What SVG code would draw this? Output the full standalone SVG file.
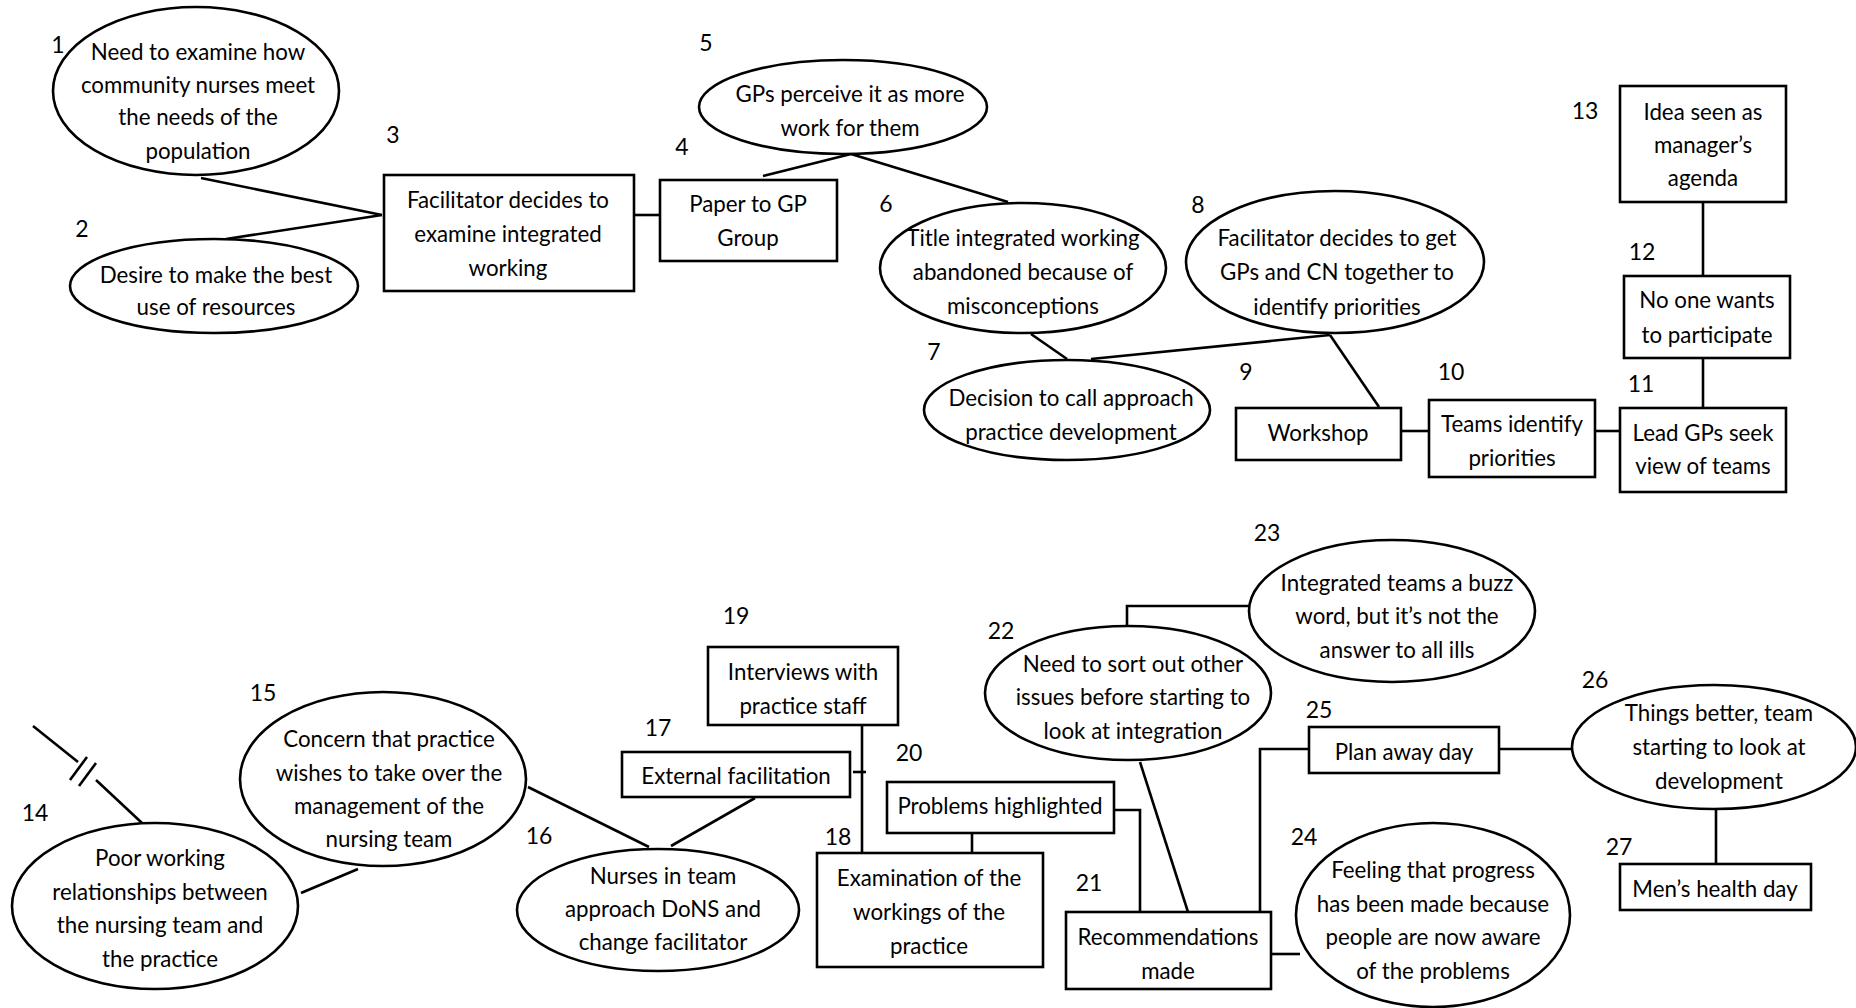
<svg xmlns="http://www.w3.org/2000/svg" width="1856" height="1008" viewBox="0 0 1856 1008">
<style>
.shape{fill:#fff;stroke:#000;stroke-width:2.6}
.t{font-family:Lato,"Liberation Sans",sans-serif;font-size:22.3px;fill:#000;text-anchor:middle}
.n{font-family:Lato,"Liberation Sans",sans-serif;font-size:23px;fill:#000;text-anchor:middle}
.c{fill:none;stroke:#000;stroke-width:2.6}
</style>
<rect width="1856" height="1008" fill="#fff"/>
<g id="connectors">
<path class="c" d="M201 178 L382 215"/>
<path class="c" d="M226 239 L382 215"/>
<path class="c" d="M634 215 L660 215"/>
<path class="c" d="M763 176 L851 154"/>
<path class="c" d="M851 154 L1008 202"/>
<path class="c" d="M1031 334 L1067 359"/>
<path class="c" d="M1091 359 L1330 335"/>
<path class="c" d="M1330 335 L1379 407"/>
<path class="c" d="M1401 431 L1429 431"/>
<path class="c" d="M1595 431 L1620 431"/>
<path class="c" d="M1703 408 L1703 358"/>
<path class="c" d="M1703 276 L1703 202"/>
<path class="c" d="M33 726 L78 762"/>
<path class="c" d="M70 780 L87 757"/>
<path class="c" d="M79 786 L96 763"/>
<path class="c" d="M96 780 L142 823"/>
<path class="c" d="M301 893 L358 869"/>
<path class="c" d="M528 787 L649 847"/>
<path class="c" d="M755 798 L671 846"/>
<path class="c" d="M862 725 L862 853"/>
<path class="c" d="M853 772 L866 772"/>
<path class="c" d="M972 833 L972 853"/>
<path class="c" d="M1114 810 L1140 810 L1140 912"/>
<path class="c" d="M1140 762 L1188 912"/>
<path class="c" d="M1127 627 L1127 606 L1249 606"/>
<path class="c" d="M1260 912 L1260 749 L1309 749"/>
<path class="c" d="M1499 749 L1573 749"/>
<path class="c" d="M1716 808 L1716 864"/>
<path class="c" d="M1271 954 L1300 954"/>
</g>
<g id="node1"><ellipse class="shape" cx="196" cy="91" rx="143" ry="84"/><text class="t" x="198" y="60">Need to examine how</text><text class="t" x="198" y="93">community nurses meet</text><text class="t" x="198" y="125">the needs of the</text><text class="t" x="198" y="159">population</text><text class="n" x="58" y="53">1</text></g>
<g id="node2"><ellipse class="shape" cx="214" cy="286" rx="144" ry="47"/><text class="t" x="216" y="283">Desire to make the best</text><text class="t" x="216" y="315">use of resources</text><text class="n" x="82" y="237">2</text></g>
<g id="node3"><rect class="shape" x="384" y="175" width="250" height="116"/><text class="t" x="508" y="208">Facilitator decides to</text><text class="t" x="508" y="242">examine integrated</text><text class="t" x="508" y="276">working</text><text class="n" x="393" y="143">3</text></g>
<g id="node4"><rect class="shape" x="660" y="180" width="177" height="81"/><text class="t" x="748" y="212">Paper to GP</text><text class="t" x="748" y="246">Group</text><text class="n" x="682" y="155">4</text></g>
<g id="node5"><ellipse class="shape" cx="843" cy="107" rx="144" ry="47"/><text class="t" x="850" y="102">GPs perceive it as more</text><text class="t" x="850" y="136">work for them</text><text class="n" x="706" y="51">5</text></g>
<g id="node6"><ellipse class="shape" cx="1023" cy="268" rx="143" ry="65"/><text class="t" x="1023" y="246">Title integrated working</text><text class="t" x="1023" y="280">abandoned because of</text><text class="t" x="1023" y="314">misconceptions</text><text class="n" x="886" y="212">6</text></g>
<g id="node7"><ellipse class="shape" cx="1067" cy="410" rx="143" ry="50"/><text class="t" x="1071" y="406">Decision to call approach</text><text class="t" x="1071" y="440">practice development</text><text class="n" x="934" y="360">7</text></g>
<g id="node8"><ellipse class="shape" cx="1335" cy="262" rx="149" ry="71"/><text class="t" x="1337" y="246">Facilitator decides to get</text><text class="t" x="1337" y="280">GPs and CN together to</text><text class="t" x="1337" y="315">identify priorities</text><text class="n" x="1198" y="213">8</text></g>
<g id="node9"><rect class="shape" x="1236" y="408" width="165" height="52"/><text class="t" x="1318" y="441">Workshop</text><text class="n" x="1246" y="380">9</text></g>
<g id="node10"><rect class="shape" x="1429" y="400" width="166" height="77"/><text class="t" x="1512" y="432">Teams identify</text><text class="t" x="1512" y="466">priorities</text><text class="n" x="1451" y="380">10</text></g>
<g id="node11"><rect class="shape" x="1620" y="408" width="166" height="84"/><text class="t" x="1703" y="441">Lead GPs seek</text><text class="t" x="1703" y="474">view of teams</text><text class="n" x="1641" y="392">11</text></g>
<g id="node12"><rect class="shape" x="1624" y="276" width="166" height="82"/><text class="t" x="1707" y="308">No one wants</text><text class="t" x="1707" y="343">to participate</text><text class="n" x="1642" y="260">12</text></g>
<g id="node13"><rect class="shape" x="1620" y="86" width="166" height="116"/><text class="t" x="1703" y="120">Idea seen as</text><text class="t" x="1703" y="153">manager’s</text><text class="t" x="1703" y="186">agenda</text><text class="n" x="1585" y="119">13</text></g>
<g id="node14"><ellipse class="shape" cx="155" cy="906" rx="143" ry="83"/><text class="t" x="160" y="866">Poor working</text><text class="t" x="160" y="900">relationships between</text><text class="t" x="160" y="933">the nursing team and</text><text class="t" x="160" y="967">the practice</text><text class="n" x="35" y="821">14</text></g>
<g id="node15"><ellipse class="shape" cx="383" cy="779" rx="143" ry="87"/><text class="t" x="389" y="747">Concern that practice</text><text class="t" x="389" y="781">wishes to take over the</text><text class="t" x="389" y="814">management of the</text><text class="t" x="389" y="847">nursing team</text><text class="n" x="263" y="701">15</text></g>
<g id="node16"><ellipse class="shape" cx="658" cy="910" rx="141" ry="61"/><text class="t" x="663" y="884">Nurses in team</text><text class="t" x="663" y="917">approach DoNS and</text><text class="t" x="663" y="950">change facilitator</text><text class="n" x="539" y="844">16</text></g>
<g id="node17"><rect class="shape" x="622" y="752" width="228" height="45"/><text class="t" x="736" y="784">External facilitation</text><text class="n" x="658" y="736">17</text></g>
<g id="node18"><rect class="shape" x="817" y="853" width="226" height="114"/><text class="t" x="929" y="886">Examination of the</text><text class="t" x="929" y="920">workings of the</text><text class="t" x="929" y="954">practice</text><text class="n" x="838" y="845">18</text></g>
<g id="node19"><rect class="shape" x="708" y="647" width="190" height="78"/><text class="t" x="803" y="680">Interviews with</text><text class="t" x="803" y="714">practice staff</text><text class="n" x="736" y="624">19</text></g>
<g id="node20"><rect class="shape" x="887" y="782" width="227" height="51"/><text class="t" x="1000" y="814">Problems highlighted</text><text class="n" x="909" y="761">20</text></g>
<g id="node21"><rect class="shape" x="1066" y="912" width="205" height="77"/><text class="t" x="1168" y="945">Recommendations</text><text class="t" x="1168" y="979">made</text><text class="n" x="1089" y="891">21</text></g>
<g id="node22"><ellipse class="shape" cx="1128" cy="693" rx="143" ry="67"/><text class="t" x="1133" y="672">Need to sort out other</text><text class="t" x="1133" y="705">issues before starting to</text><text class="t" x="1133" y="739">look at integration</text><text class="n" x="1001" y="639">22</text></g>
<g id="node23"><ellipse class="shape" cx="1392" cy="611" rx="143" ry="71"/><text class="t" x="1397" y="591">Integrated teams a buzz</text><text class="t" x="1397" y="624">word, but it’s not the</text><text class="t" x="1397" y="658">answer to all ills</text><text class="n" x="1267" y="541">23</text></g>
<g id="node24"><ellipse class="shape" cx="1433" cy="915" rx="137" ry="92"/><text class="t" x="1433" y="878">Feeling that progress</text><text class="t" x="1433" y="912">has been made because</text><text class="t" x="1433" y="945">people are now aware</text><text class="t" x="1433" y="979">of the problems</text><text class="n" x="1304" y="845">24</text></g>
<g id="node25"><rect class="shape" x="1309" y="727" width="190" height="46"/><text class="t" x="1404" y="760">Plan away day</text><text class="n" x="1319" y="718">25</text></g>
<g id="node26"><ellipse class="shape" cx="1714" cy="747" rx="142" ry="62"/><text class="t" x="1719" y="721">Things better, team</text><text class="t" x="1719" y="755">starting to look at</text><text class="t" x="1719" y="789">development</text><text class="n" x="1595" y="688">26</text></g>
<g id="node27"><rect class="shape" x="1620" y="864" width="191" height="46"/><text class="t" x="1715" y="897">Men’s health day</text><text class="n" x="1619" y="855">27</text></g>
</svg>
